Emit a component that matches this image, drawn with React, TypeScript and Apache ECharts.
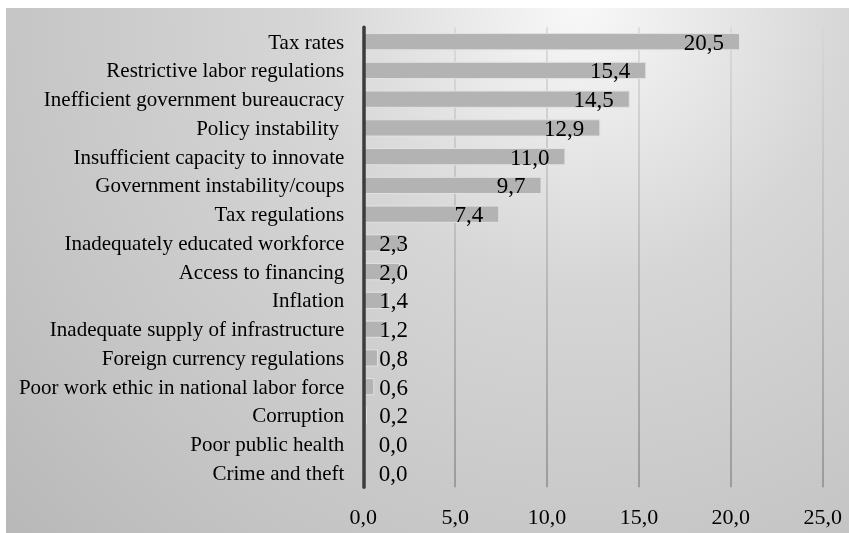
import React, { useEffect, useRef } from "react";
import * as echarts from "echarts";

const categories: string[] = [
  "Tax rates",
  "Restrictive labor regulations",
  "Inefficient government bureaucracy",
  "Policy instability\u00a0",
  "Insufficient capacity to innovate",
  "Government instability/coups",
  "Tax regulations",
  "Inadequately educated workforce",
  "Access to financing",
  "Inflation",
  "Inadequate supply of infrastructure",
  "Foreign currency regulations",
  "Poor work ethic in national labor force",
  "Corruption",
  "Poor public health",
  "Crime and theft",
];

const values: number[] = [20.5, 15.4, 14.5, 12.9, 11.0, 9.7, 7.4, 2.3, 2.0, 1.4, 1.2, 0.8, 0.6, 0.2, 0.0, 0.0];

const xMin = 0;
const xMax = 25;
const xInterval = 5;

const fmt = (v: number) => v.toFixed(1).replace(".", ",");

export default function App() {
  const ref = useRef<HTMLDivElement>(null);
  useEffect(() => {
    if (!ref.current) return;
    const chart = echarts.init(ref.current, null, { renderer: "svg" });
    const font = "'Liberation Serif', 'Times New Roman', serif";
    chart.setOption({
      animation: false,
      backgroundColor: "transparent",
      grid: { left: 357.3, right: 26.3, top: 19.3, bottom: 45.7, containLabel: false },
      xAxis: {
        type: "value",
        min: xMin,
        max: xMax,
        interval: xInterval,
        axisLine: { show: false },
        axisTick: { show: false },
        axisLabel: {
          formatter: (v: number) => fmt(v),
          fontFamily: font,
          fontSize: 22,
          color: "#000",
          margin: 18,
        },
        splitLine: {
          show: true,
          lineStyle: {
            width: 1.5,
            color: new echarts.graphic.LinearGradient(0, 19, 0, 480, [
              { offset: 0, color: "#d6d6d6" },
              { offset: 1, color: "#8c8c8c" },
            ], true),
          },
        },
      },
      yAxis: {
        type: "category",
        data: categories,
        inverse: true,
        z: 10,
        axisLine: { show: true, lineStyle: { color: "#3c3c3c", width: 3.5 } },
        axisTick: { show: false },
        axisLabel: { fontFamily: font, fontSize: 21, color: "#000", margin: 19 },
        splitLine: { show: false },
      },
      series: [
        {
          type: "bar",
          barWidth: "60%",
          itemStyle: { color: "#b3b3b3", borderColor: "#e2e2e2", borderWidth: 1 },
          data: values.map((v) => ({
            value: v,
            label: {
              show: true,
              position: v > 3.5 ? "insideRight" : "insideLeft",
              distance: 16,
              formatter: () => fmt(v),
              fontFamily: font,
              fontSize: 23,
              color: "#000",
              offset: [0, 0.5],
            },
          })),
        },
      ],
    });
    return () => chart.dispose();
  }, []);
  return (
    <div
      ref={ref}
      style={{
        position: "fixed",
        left: 6,
        top: 8,
        width: 843,
        height: 525,
        background:
          "radial-gradient(circle 780px at 573px 0px, #f8f8f8 0%, #d6d6d6 35%, #c5c5c5 74%, #b8b8b8 100%)",
      }}
    />
  );
}
